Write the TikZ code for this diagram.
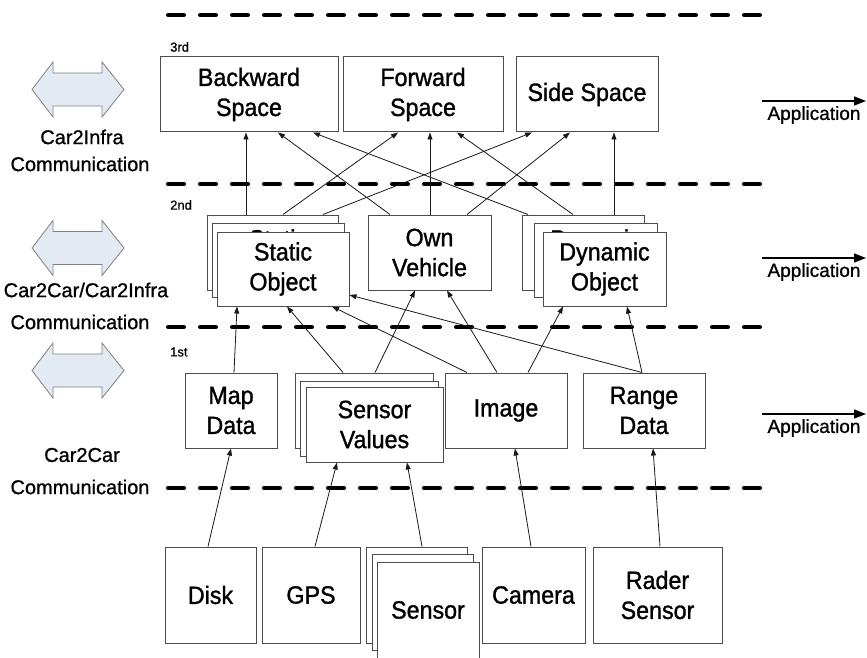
\documentclass[tikz,border=0pt]{standalone}
\usepackage{fontspec}
\setmainfont[FakeBold=0.8]{Liberation Sans}
\newfontfamily\boxfont[FakeStretch=0.93,FakeBold=1.2]{Liberation Sans}
\newfontfamily\labfont[FakeBold=0.9]{Liberation Sans}
\usetikzlibrary{arrows.meta}
\definecolor{arrowfill}{RGB}{228,234,244}
\begin{document}
\begin{tikzpicture}[x=1pt,y=-1pt,
  box/.style={draw=black!70,line width=1pt,fill=white,inner sep=0pt,align=center,
    font=\boxfont\fontsize{25}{30}\selectfont},
  ghost/.style={inner sep=0pt,align=center,font=\boxfont\fontsize{25}{30}\selectfont},
  conn/.style={draw=black!90,line width=0.8pt,-{Triangle[length=7pt,width=5pt]}},
  sep/.style={line width=4pt,dash pattern=on 16pt off 16pt,line cap=round},
  layer/.style={font=\labfont\fontsize{13}{15}\selectfont,anchor=west,inner sep=0pt},
  comm/.style={font=\labfont\fontsize{20}{24}\selectfont,inner sep=0pt},
  app/.style={font=\labfont\fontsize{19}{22}\selectfont,inner sep=0pt},
  apparrow/.style={line width=1.6pt,-{Triangle[length=12pt,width=9pt]}},
  bigarrow/.style={draw=black!50,line width=0.8pt,fill=arrowfill,line join=miter}
]
\useasboundingbox (0,0) rectangle (867,658);
\fill[white] (0,0) rectangle (867,658);

% layer separators
\foreach \yy in {15,184,327,488}
  \draw[sep] (168,\yy) -- (765,\yy);

% layer labels
\node[layer] (l3) at (170,47) {3rd};
\node[layer] (l2) at (170,205) {2nd};
\node[layer] (l1) at (170,352) {1st};

% communication arrows
\foreach \cy in {89.5,248,370.5}
  \draw[bigarrow] (32,\cy) -- (53,\cy-27.5) -- (53,\cy-16.5) -- (102,\cy-16.5)
    -- (102,\cy-27.5) -- (124,\cy) -- (102,\cy+27.5) -- (102,\cy+16.5)
    -- (53,\cy+16.5) -- (53,\cy+27.5) -- cycle;
\node[comm] (c3a) at (82,137) {Car2Infra};
\node[comm] (c3b) at (80,164) {Communication};
\node[comm] (c2a) at (86,290) {Car2Car/Car2Infra};
\node[comm] (c2b) at (80,322) {Communication};
\node[comm] (c1a) at (82,455) {Car2Car};
\node[comm] (c1b) at (80,487) {Communication};

% application outputs
\foreach \ay/\nm in {101/a3,258/a2,414/a1}{
  \coordinate (\nm s) at (762,\ay);
  \coordinate (\nm e) at (866,\ay);
  \draw[apparrow] (\nm s) -- (\nm e);
  \node[app] (\nm t) at (814,\ay+14) {Application};
}

% 3rd layer
\node[box,minimum width=178pt,minimum height=75pt] (bw) at (249,94.5) {Backward\\Space};
\node[box,minimum width=160pt,minimum height=75pt] (fw) at (423,94.5) {Forward\\Space};
\node[box,minimum width=142pt,minimum height=75pt] (ss) at (587,94.5) {Side Space};

% 2nd layer
\node[box,minimum width=131pt,minimum height=75pt] (sb) at (272.5,252.5) {};
\node[box,minimum width=132pt,minimum height=74pt] (sm) at (278,260) {};
\node[ghost] (smt) at (278,256) {Static\\Object};
\node[box,minimum width=132pt,minimum height=74pt] (sf) at (283,269) {Static\\Object};
\node[box,minimum width=123pt,minimum height=75pt] (ov) at (429.5,252.5) {Own\\Vehicle};
\node[box,minimum width=122pt,minimum height=75pt] (db) at (583,252.5) {};
\node[box,minimum width=123pt,minimum height=74pt] (dm) at (595.5,260) {};
\node[ghost] (dmt) at (595.5,256) {Dynamic\\Object};
\node[box,minimum width=123pt,minimum height=74pt] (df) at (604.5,269) {Dynamic\\Object};

% 1st layer
\node[box,minimum width=92pt,minimum height=75pt] (map) at (231,410.5) {Map\\Data};
\node[box,minimum width=138pt,minimum height=75pt] (svb) at (364,410.5) {};
\node[box,minimum width=138pt,minimum height=75pt] (svm) at (369,418.5) {};
\node[ghost] (svmt) at (369,414) {Sensor\\Values};
\node[box,minimum width=137pt,minimum height=75pt] (svf) at (374.5,424.5) {Sensor\\Values};
\node[box,minimum width=122pt,minimum height=75pt] (img) at (506,410.5) {Image};
\node[box,minimum width=122pt,minimum height=75pt] (rng) at (644,410.5) {Range\\Data};

% devices
\node[box,minimum width=91pt,minimum height=96pt] (disk) at (210.5,595) {Disk};
\node[box,minimum width=98pt,minimum height=96pt] (gps) at (311,595) {GPS};
\node[box,minimum width=101pt,minimum height=96pt] (snb) at (416.5,595) {};
\node[box,minimum width=101pt,minimum height=96pt] (snm) at (422.5,602) {};
\node[box,minimum width=102pt,minimum height=96pt] (snf) at (428,610) {Sensor};
\node[box,minimum width=103pt,minimum height=96pt] (cam) at (533.5,595) {Camera};
\node[box,minimum width=129pt,minimum height=96pt] (rad) at (657.5,595) {Rader\\Sensor};

% 2nd -> 3rd
\draw[conn] (sb.north -| 246,0) -- (bw.south -| 246,0);
\draw[conn] (ov.north -| 390,0) -- (bw.south -| 278,0);
\draw[conn] (db.north -| 528,0) -- (bw.south -| 313,0);
\draw[conn] (sb.north -| 283,0) -- (fw.south -| 398,0);
\draw[conn] (ov.north -| 430,0) -- (fw.south -| 430,0);
\draw[conn] (db.north -| 573,0) -- (fw.south -| 457,0);
\draw[conn] (sb.north -| 323,0) -- (ss.south -| 532,0);
\draw[conn] (ov.north -| 467,0) -- (ss.south -| 570,0);
\draw[conn] (db.north -| 614,0) -- (ss.south -| 614,0);

% 1st -> 2nd
\draw[conn] (map.north -| 234,0) -- (sf.south -| 237,0);
\draw[conn] (svb.north -| 343,0) -- (sf.south -| 287,0);
\draw[conn] (svb.north -| 375,0) -- (ov.south -| 415,0);
\draw[conn] (img.north -| 467,0) -- (sf.south -| 332,0);
\draw[conn] (img.north -| 497,0) -- (ov.south -| 447,0);
\draw[conn] (img.north -| 528,0) -- (df.south -| 563,0);
\draw[conn] (rng.north -| 642,0) -- (sf.east |- 0,295);
\draw[conn] (rng.north -| 642,0) -- (df.south -| 627,0);

% devices -> 1st
\draw[conn] (disk.north -| 208,0) -- (map.south -| 231,0);
\draw[conn] (gps.north -| 315,0) -- (svf.south -| 337,0);
\draw[conn] (snb.north -| 422,0) -- (svf.south -| 407,0);
\draw[conn] (cam.north -| 531,0) -- (img.south -| 515,0);
\draw[conn] (rad.north -| 660,0) -- (rng.south -| 653,0);
\end{tikzpicture}
\end{document}
